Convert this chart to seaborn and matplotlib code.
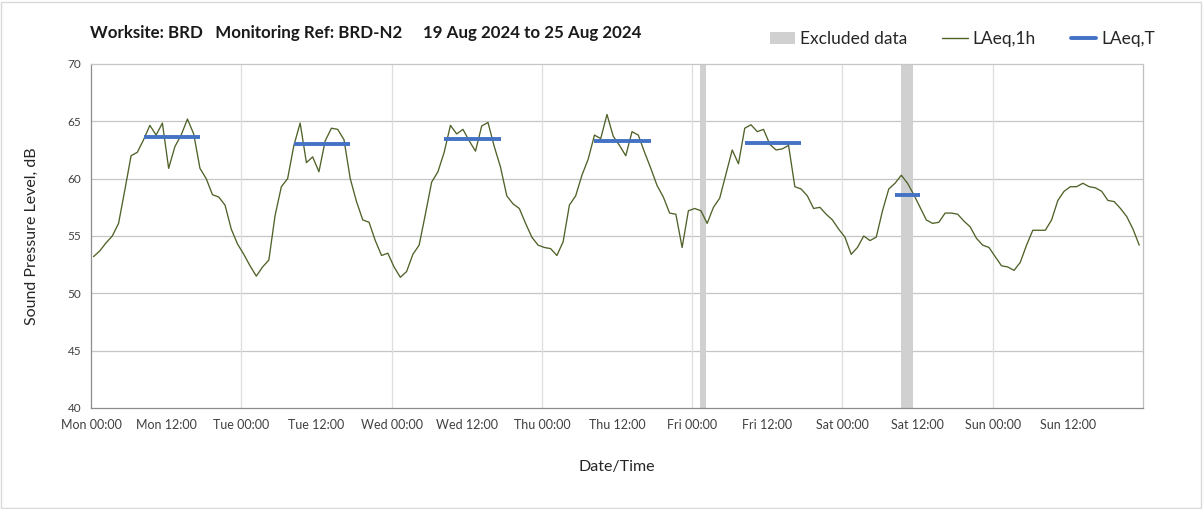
import matplotlib
matplotlib.use("Agg")
import matplotlib.pyplot as plt
from matplotlib.patches import Patch, Rectangle
from matplotlib.lines import Line2D
import numpy as np
import pandas as pd
import seaborn as sns

# ---- data -------------------------------------------------------------
days = ["Mon", "Tue", "Wed", "Thu", "Fri", "Sat", "Sun"]
tick_times = ["00:00", "12:00"]

# hourly LAeq,1h (dB), Mon 00:00 .. Sun 23:00
laeq_1h = [
    53.2, 53.7, 54.4, 55.0, 56.1, 59.0, 62.0, 62.3, 63.4, 64.65, 63.8, 64.85,
    60.9, 62.8, 63.8, 65.2, 63.9, 60.9, 60.0, 58.6, 58.4, 57.7, 55.6, 54.3,
    53.4, 52.4, 51.5, 52.3, 52.9, 56.8, 59.3, 60.0, 62.9, 64.85, 61.4, 61.9,
    60.6, 63.3, 64.4, 64.3, 63.4, 60.0, 58.0, 56.4, 56.2, 54.6, 53.3, 53.5,
    52.3, 51.4, 51.9, 53.4, 54.2, 56.9, 59.7, 60.6, 62.3, 64.65, 63.9, 64.3,
    63.3, 62.4, 64.6, 64.9, 62.8, 61.0, 58.5, 57.8, 57.4, 56.1, 54.9, 54.2,
    54.0, 53.9, 53.3, 54.5, 57.7, 58.5, 60.3, 61.7, 63.8, 63.5, 65.6, 63.7,
    62.9, 62.0, 64.1, 63.8, 62.3, 60.9, 59.4, 58.4, 57.0, 56.9, 54.0, 57.2,
    57.4, 57.2, 56.1, 57.5, 58.3, 60.4, 62.5, 61.3, 64.4, 64.7, 64.1, 64.3,
    63.0, 62.5, 62.6, 62.9, 59.3, 59.1, 58.5, 57.4, 57.5, 56.9, 56.4, 55.6,
    54.9, 53.4, 54.0, 55.0, 54.6, 54.9, 57.2, 59.1, 59.6, 60.3, 59.6, 58.6,
    57.5, 56.4, 56.1, 56.2, 57.0, 57.0, 56.9, 56.3, 55.8, 54.8, 54.2, 54.0,
    53.2, 52.4, 52.3, 52.0, 52.7, 54.2, 55.5, 55.5, 55.5, 56.4, 58.1, 58.9,
    59.3, 59.3, 59.6, 59.3, 59.2, 58.9, 58.1, 58.0, 57.4, 56.7, 55.6, 54.2,
]

# LAeq,T periods: start hour, end hour, level (dB)
laeqt_start = [8, 32, 56, 80, 104, 128]
laeqt_end = [17, 41, 65, 89, 113, 132]
laeqt_level = [63.6, 63.0, 63.5, 63.3, 63.1, 58.6]

# excluded data windows (hours from Mon 00:00)
excluded_start = [97.25, 129.35]
excluded_end = [98.15, 131.3]

# ---- style ------------------------------------------------------------
sns.set_style("white")
plt.rcParams["font.family"] = ["Lato", "DejaVu Sans"]

GREEN = "#4F6228"
BLUE = "#4472C4"
EXCL = "#D0D0D0"
TEXT = "#262626"
TICK = "#404040"

fig = plt.figure(figsize=(12.03, 5.09), dpi=100)
ax = fig.add_axes([91 / 1203, 1 - 408 / 509, (1143 - 91) / 1203, (408 - 64) / 509])

# hourly values are plotted at the middle of each hour slot
pt_off = 0.4
df = pd.DataFrame({"hour": np.arange(len(laeq_1h)) + pt_off, "LAeq": laeq_1h})

for s, e in zip(excluded_start, excluded_end):
    ax.axvspan(s, e, color=EXCL, lw=0, zorder=1)

sns.lineplot(data=df, x="hour", y="LAeq", color=GREEN, lw=0.95, ax=ax, zorder=3)

for s, e, v in zip(laeqt_start, laeqt_end, laeqt_level):
    ax.plot([s + pt_off, e + pt_off], [v, v], color=BLUE, lw=2.8,
            solid_capstyle="butt", zorder=4)

# ---- axes -------------------------------------------------------------
ax.set_xlim(0, 168)
ax.set_ylim(40, 70)
ax.set_yticks(np.arange(40, 71, 5))

xt = np.arange(0, 169, 12)
xl = [f"{days[i // 2]} {tick_times[i % 2]}" if i < 14 else "" for i in range(len(xt))]
ax.set_xticks(xt)
ax.set_xticklabels(xl)

ax.tick_params(axis="x", direction="out", length=4, width=0.8, color="#8C8C8C",
               labelsize=9, labelcolor=TICK, pad=4)
ax.tick_params(axis="y", direction="out", length=4, width=0.8, color="#8C8C8C",
               labelsize=8.5, labelcolor=TICK, pad=3)

ax.grid(False)
for y in np.arange(45, 70, 5):
    ax.axhline(y, color="#C6C6C6", lw=0.9, zorder=0)
for d in range(1, 7):
    ax.axvline(d * 24, color="#DEDEDE", lw=0.9, zorder=0)

for side in ["left", "bottom"]:
    ax.spines[side].set_color("#8C8C8C")
    ax.spines[side].set_linewidth(0.9)
ax.spines["top"].set_color("#C6C6C6")
ax.spines["top"].set_linewidth(0.9)
ax.spines["right"].set_color("#BFBFBF")
ax.spines["right"].set_linewidth(0.9)

ax.set_xlabel("")
ax.set_ylabel("")
fig.text(617 / 1203, 1 - 467 / 509, "Date/Time", ha="center", va="center",
         fontsize=11.5, color=TEXT)
fig.text(32 / 1203, 1 - 236 / 509, "Sound Pressure Level, dB", ha="center",
         va="center", rotation=90, fontsize=11.5, color=TEXT)

fig.text(90 / 1203, 1 - 33 / 509,
         "Worksite: BRD   Monitoring Ref: BRD-N2     19 Aug 2024 to 25 Aug 2024",
         ha="left", va="center", fontsize=12.2, fontweight="bold", color="#1A1A1A")

handles = [
    Patch(facecolor=EXCL, edgecolor="none"),
    Line2D([], [], color=GREEN, lw=1.0),
    Line2D([], [], color=BLUE, lw=2.8),
]
labels = ["Excluded data", "LAeq,1h", "LAeq,T"]
fig.legend(handles, labels, loc="center left", bbox_to_anchor=(770 / 1203, 1 - 39 / 509),
           ncol=3, frameon=False, fontsize=12.5, handlelength=1.45, handleheight=0.7,
           handletextpad=0.3, columnspacing=2.0, borderpad=0, borderaxespad=0,
           labelcolor=TEXT)

fig.add_artist(Rectangle((0.001, 0.002), 0.997, 0.994, transform=fig.transFigure,
                         fill=False, edgecolor="#D9D9D9", lw=1.0))

fig.savefig("out.png", dpi=100)
